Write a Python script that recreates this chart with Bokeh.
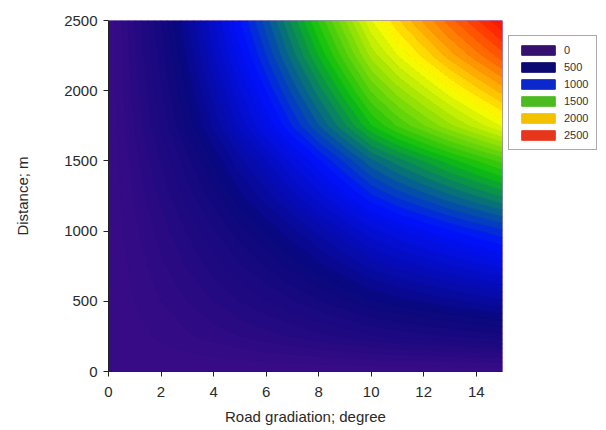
import numpy as np
from bokeh.plotting import figure
from bokeh.layouts import row
from bokeh.models import Range1d, FixedTicker, ColumnDataSource
from bokeh.embed import file_html
from bokeh.resources import INLINE

# ---- data ----
gradient_deg = [0, 1, 2, 3, 4, 5, 6, 7, 8, 9, 10, 11, 12, 13, 14, 15]
distance_m = [0, 250, 500, 750, 1000, 1250, 1500, 1750, 2000, 2250, 2500]
# value read along the top edge (distance = 2500 m)
top_edge_values = [0, 200, 400, 600, 800, 1000, 1180, 1370, 1560, 1750, 1950,
                   2090, 2210, 2330, 2440, 2550]
# value read along the right edge (gradient = 15 degree)
right_edge_values = [0, 380, 640, 870, 1090, 1360, 1620, 1960, 2170, 2380, 2550]
corner_value = 2550

legend_values = [0, 500, 1000, 1500, 2000, 2500]
legend_labels = ["0", "500", "1000", "1500", "2000", "2500"]
legend_colors = ["#35106f", "#0a0a72", "#0a28cc", "#4cbb22", "#f2c200", "#e8361c"]

x_ticks = [0, 2, 4, 6, 8, 10, 12, 14]
y_ticks = [0, 500, 1000, 1500, 2000, 2500]

# ---- colour map (value anchors -> rgb) ----
cmap_vals = [0, 500, 1000, 1500, 2000, 2200, 2500, 2600]
cmap_rgb = [(58, 12, 135), (10, 8, 125), (0, 18, 255), (14, 192, 14),
            (255, 255, 0), (255, 160, 0), (255, 30, 0), (255, 10, 0)]


def cmap(v):
    v = max(v, 0)
    r = np.interp(v, cmap_vals, [c[0] for c in cmap_rgb])
    g = np.interp(v, cmap_vals, [c[1] for c in cmap_rgb])
    b = np.interp(v, cmap_vals, [c[2] for c in cmap_rgb])
    return "#%02x%02x%02x" % (int(r), int(g), int(b))


z = np.outer(right_edge_values, top_edge_values) / corner_value
levels = [-1.0] + [float(v) for v in np.arange(50, 2601, 50)]
fill_colors = [cmap((levels[i] + levels[i + 1]) / 2) for i in range(len(levels) - 1)]
line_colors = [cmap(l) for l in levels]

FONT = "Liberation Sans"

p = figure(width=504, height=428, output_backend="svg", toolbar_location=None,
           x_range=Range1d(0, 15), y_range=Range1d(0, 2500),
           min_border_left=108, min_border_right=2, min_border_top=20,
           min_border_bottom=57)
p.grid.visible = False
p.outline_line_color = None
p.background_fill_color = "#3a0c87"

p.contour(x=np.array(gradient_deg, dtype=float), y=np.array(distance_m, dtype=float),
          z=z, levels=levels, fill_color=fill_colors, line_color=line_colors,
          line_width=1)

for ax in (p.xaxis[0], p.yaxis[0]):
    ax.major_label_text_font = FONT
    ax.major_label_text_font_size = "15px"
    ax.major_label_text_color = "#2a2a2a"
    ax.axis_label_text_font = FONT
    ax.axis_label_text_font_size = "15px"
    ax.axis_label_text_font_style = "normal"
    ax.axis_label_text_color = "#2a2a2a"
    ax.axis_line_color = "#222222"
    ax.major_tick_line_color = "#222222"
    ax.major_tick_out = 5
    ax.major_tick_in = 0
    ax.minor_tick_line_color = None

p.xaxis[0].ticker = FixedTicker(ticks=x_ticks)
p.yaxis[0].ticker = FixedTicker(ticks=y_ticks)
p.xaxis[0].axis_label = "Road gradiation; degree"
p.yaxis[0].axis_label = "Distance; m"
p.xaxis[0].major_label_standoff = 10
p.xaxis[0].axis_label_standoff = 8
p.yaxis[0].major_label_standoff = 6
p.yaxis[0].axis_label_standoff = 30

# ---- legend panel (legend glyphs lie outside its visible range) ----
pl = figure(width=98, height=428, output_backend="svg", toolbar_location=None,
            x_range=Range1d(-10000, -9000), y_range=Range1d(-10000, -9000),
            min_border=0)
pl.axis.visible = False
pl.grid.visible = False
pl.outline_line_color = None

src = ColumnDataSource(dict(v=legend_values, lab=legend_labels, col=legend_colors))
pl.rect(x="v", y="v", width=1, height=1, source=src, fill_color="col",
        line_color="col", legend_field="lab")

legend = pl.legend[0]
legend.location = (4, 221)
legend.margin = 0
legend.padding = 8
legend.glyph_width = 42
legend.glyph_height = 12
legend.label_height = 12
legend.spacing = 5
legend.label_standoff = 5
legend.label_text_font = FONT
legend.label_text_font_size = "11px"
legend.label_text_color = "#333333"
legend.border_line_color = "#555555"
legend.border_line_width = 1
legend.background_fill_color = "white"
legend.background_fill_alpha = 1

layout = row(p, pl, spacing=0)
open("out.html", "w").write(file_html(layout, INLINE))
